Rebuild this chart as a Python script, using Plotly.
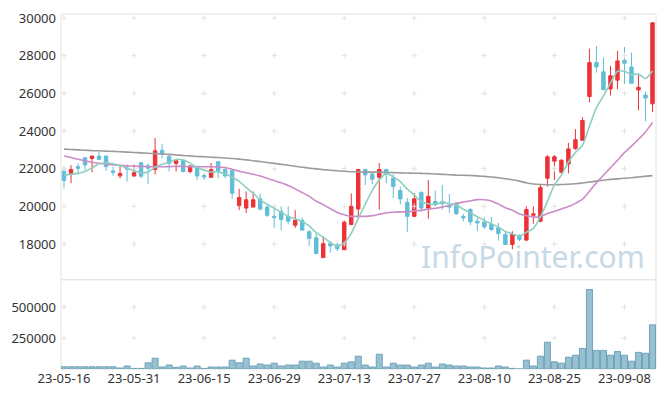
import plotly.graph_objects as go

dates = ["23-05-16","23-05-17","23-05-18","23-05-19","23-05-22","23-05-23","23-05-24","23-05-25","23-05-26","23-05-30",
         "23-05-31","23-06-01","23-06-02","23-06-05","23-06-07","23-06-08","23-06-09","23-06-12","23-06-13","23-06-14",
         "23-06-15","23-06-16","23-06-19","23-06-20","23-06-21","23-06-22","23-06-23","23-06-26","23-06-27","23-06-28",
         "23-06-29","23-06-30","23-07-03","23-07-04","23-07-05","23-07-06","23-07-07","23-07-10","23-07-11","23-07-12",
         "23-07-13","23-07-14","23-07-17","23-07-18","23-07-19","23-07-20","23-07-21","23-07-24","23-07-25","23-07-26",
         "23-07-27","23-07-28","23-07-31","23-08-01","23-08-02","23-08-03","23-08-04","23-08-07","23-08-08","23-08-09",
         "23-08-10","23-08-11","23-08-14","23-08-16","23-08-17","23-08-18","23-08-21","23-08-22","23-08-23","23-08-24",
         "23-08-25","23-08-28","23-08-29","23-08-30","23-08-31","23-09-01","23-09-04","23-09-05","23-09-06","23-09-07",
         "23-09-08","23-09-11","23-09-12","23-09-13","23-09-14"]

opens = [21880, 21740, 22110, 22580, 22540, 22670, 22670, 21880, 21620, 22040,
         21610, 22320, 22150, 21960, 22980, 22650, 22280, 22450, 21850, 22100,
         21640, 21540, 22370, 21960, 21900, 20040, 19910, 19960, 20400, 19960,
         19470, 19740, 19470, 19000, 19260, 18650, 18330, 17280, 18020, 17950,
         17700, 19040, 19860, 21960, 21720, 21540, 21960, 21490, 20840, 20210,
         19470, 20740, 19910, 20260, 20260, 20050, 20170, 19470, 19830, 19210,
         19160, 19040, 18860, 18510, 17980, 18460, 18210, 19530, 19210, 21490,
         22400, 21810, 22250, 23070, 23510, 25830, 27630, 27140, 26230, 26700,
         27750, 27400, 26180, 25910, 25440]
highs = [22100, 22190, 22280, 22630, 22680, 22900, 22700, 22100, 22190, 22220,
         22220, 22330, 22280, 23630, 23330, 22800, 22440, 22500, 22200, 22150,
         21750, 22300, 22380, 22100, 21950, 20930, 20790, 20790, 20670, 20090,
         19960, 20000, 20000, 19790, 19400, 18740, 18550, 18420, 18160, 18080,
         19250, 20680, 21990, 21990, 21760, 22300, 21990, 21700, 21050, 20440,
         20700, 20790, 21400, 20840, 21140, 20650, 20200, 19600, 19900, 19390,
         19420, 19450, 19120, 18650, 18680, 18520, 20000, 20000, 21180, 22720,
         22720, 22500, 23370, 24100, 24740, 28370, 28510, 27900, 27460, 28250,
         28460, 28160, 27020, 26090, 29790]
lows = [20950, 21230, 21670, 21930, 21810, 22450, 21880, 21630, 21490, 21320,
        21580, 21490, 21180, 21700, 22540, 21850, 21850, 21800, 21750, 21400,
        21400, 21540, 21500, 21500, 20400, 19800, 19650, 19960, 19780, 19440,
        18860, 18740, 19040, 18860, 18740, 17900, 17450, 17280, 17550, 17630,
        17680, 19000, 19390, 21140, 21180, 19830, 21230, 20440, 20090, 18630,
        19470, 19700, 19350, 20000, 19830, 19650, 19560, 19210, 19000, 18680,
        18820, 18700, 18190, 17950, 17720, 18160, 18160, 19080, 19160, 21050,
        21400, 21750, 21750, 23000, 23500, 25530, 27100, 26190, 25880, 26230,
        26490, 26530, 25090, 24510, 25000]
closes = [21370, 21960, 22020, 22200, 22670, 22490, 22110, 21810, 21750, 21980,
          21790, 21600, 22020, 22950, 22790, 22280, 22420, 21850, 22140, 21610,
          21560, 21950, 21900, 21620, 20700, 20470, 20350, 20350, 19860, 19530,
          19400, 19300, 19210, 19260, 18740, 18300, 17500, 18020, 17900, 17750,
          19160, 20000, 21960, 21670, 21440, 21960, 21720, 21050, 20390, 19470,
          20400, 19910, 20530, 20140, 20140, 19960, 19610, 19390, 19180, 19120,
          18910, 18770, 18560, 17980, 18510, 18250, 19830, 19600, 21000, 22630,
          22630, 22450, 23050, 23540, 24560, 27630, 27400, 26190, 26930, 27720,
          27600, 26530, 26320, 25750, 29740]
volumes = [18000, 18000, 18000, 18000, 18000, 18000, 18000, 18000, 8000, 24000,
           5000, 5000, 50000, 87000, 16000, 32000, 13000, 24000, 8000, 24000,
           5000, 16000, 16000, 16000, 71000, 50000, 87000, 24000, 40000, 32000,
           47000, 24000, 32000, 32000, 63000, 63000, 47000, 16000, 32000, 16000,
           47000, 58000, 103000, 32000, 16000, 119000, 16000, 47000, 32000, 32000,
           16000, 32000, 47000, 16000, 40000, 32000, 24000, 24000, 16000, 16000,
           8000, 8000, 24000, 16000, 5000, 0, 71000, 24000, 103000, 216000,
           58000, 47000, 95000, 111000, 166000, 641000, 150000, 150000, 111000, 142000,
           111000, 63000, 134000, 127000, 356000]
prior_closes = [21800, 21700, 21750, 21720]
ma20 = [22670, 22590, 22500, 22420, 22340, 22290, 22240, 22200, 22170, 22150,
        22130, 22120, 22110, 22100, 22100, 22110, 22120, 22120, 22110, 22100,
        22100, 22100, 22090, 22060, 21970, 21870, 21780, 21700, 21610, 21490,
        21370, 21250, 21110, 20930, 20730, 20530, 20280, 20090, 19880, 19680,
        19560, 19470, 19470, 19470, 19510, 19580, 19650, 19690, 19710, 19710,
        19760, 19790, 19860, 19900, 19970, 20050, 20160, 20230, 20290, 20360,
        20350, 20290, 20120, 19930, 19790, 19600, 19510, 19430, 19460, 19620,
        19730, 19860, 19990, 20160, 20380, 20800, 21250, 21650, 22050, 22450,
        22850, 23200, 23560, 23950, 24460]
ma60 = [23040, 23020, 23000, 22980, 22960, 22950, 22930, 22920, 22900, 22880,
        22860, 22840, 22820, 22800, 22780, 22760, 22730, 22700, 22680, 22650,
        22630, 22610, 22590, 22570, 22540, 22510, 22470, 22420, 22380, 22330,
        22280, 22230, 22180, 22130, 22080, 22030, 21990, 21950, 21920, 21890,
        21860, 21840, 21830, 21820, 21820, 21810, 21800, 21790, 21780, 21770,
        21760, 21750, 21740, 21720, 21700, 21680, 21660, 21650, 21640, 21620,
        21590, 21560, 21520, 21470, 21410, 21340, 21250, 21190, 21160, 21150,
        21150, 21160, 21170, 21200, 21240, 21290, 21340, 21390, 21430, 21460,
        21490, 21520, 21560, 21600, 21630]
price_ticks = [18000, 20000, 22000, 24000, 26000, 28000, 30000]
volume_ticks = [250000, 500000]

idx = list(range(len(dates)))
all_c = prior_closes + closes
ma5 = [sum(all_c[i:i + 5]) / 5 for i in range(len(closes))]

RED = "#ec3237"
BLUE = "#62bdd8"
split = 0.2514

fig = go.Figure()

tick_idx = idx[::10]
cross = dict(symbol="cross-thin", size=4, line=dict(color="#e2e2e2", width=1))
cx, cy = [], []
for t in tick_idx:
    for p in price_ticks:
        cx.append(t); cy.append(p)
fig.add_trace(go.Scatter(x=cx, y=cy, mode="markers", xaxis="x", yaxis="y",
                         marker=cross, hoverinfo="skip", showlegend=False))
vx, vy = [], []
for t in tick_idx:
    for v in volume_ticks:
        vx.append(t); vy.append(v)
fig.add_trace(go.Scatter(x=vx, y=vy, mode="markers", xaxis="x", yaxis="y2",
                         marker=cross, hoverinfo="skip", showlegend=False))

for vals, col in [(ma60, "#9b9b9b"), (ma20, "#cc8ac6"), (ma5, "#8ecfc1")]:
    fig.add_trace(go.Scatter(x=idx, y=vals, mode="lines", xaxis="x", yaxis="y",
                             line=dict(color=col, width=1.6, shape="spline", smoothing=0.6),
                             hoverinfo="skip", showlegend=False))

fig.add_trace(go.Candlestick(x=idx, open=opens, high=highs, low=lows, close=closes,
                             xaxis="x", yaxis="y",
                             increasing=dict(line=dict(color=RED, width=1), fillcolor=RED),
                             decreasing=dict(line=dict(color=BLUE, width=1), fillcolor=BLUE),
                             whiskerwidth=0, showlegend=False))

fig.add_trace(go.Bar(x=idx, y=volumes, xaxis="x", yaxis="y2", width=0.86,
                     marker=dict(color="#97c0d1", line=dict(color="#6fa3b9", width=1)),
                     showlegend=False))

font = dict(family="Noto Sans", size=13, color="#333333")

fig.update_layout(
    width=665, height=397,
    margin=dict(l=61, r=9, t=11, b=28),
    paper_bgcolor="white", plot_bgcolor="white",
    showlegend=False,
    xaxis=dict(range=[-0.43, 84.5], anchor="y2", tickvals=tick_idx,
               ticktext=[dates[i] for i in tick_idx], tickfont=font,
               showgrid=False, zeroline=False, showline=False, ticks="",
               rangeslider=dict(visible=False)),
    yaxis=dict(domain=[split, 1], range=[16105, 30210], tickvals=price_ticks,
               tickformat="d", tickfont=font, showgrid=False, zeroline=False, ticks="",
               ticklabelstandoff=4),
    yaxis2=dict(domain=[0, split], range=[0, 720000], tickvals=volume_ticks,
                tickformat="d", tickfont=font, showgrid=False, zeroline=False, ticks="",
                ticklabelstandoff=4),
    shapes=[
        dict(type="rect", xref="paper", yref="paper", x0=0, x1=1, y0=split, y1=1,
             line=dict(color="#e3e3e3", width=1), layer="below"),
        dict(type="rect", xref="paper", yref="paper", x0=0, x1=1, y0=0, y1=split,
             line=dict(color="#e3e3e3", width=1), layer="below"),
    ],
    annotations=[dict(text="InfoPointer.com", xref="paper", yref="paper",
                      x=0.985, y=0.318, xanchor="right", yanchor="middle",
                      showarrow=False,
                      font=dict(family="Noto Sans", size=30, color="#c6d9e5"))],
)

fig.write_html("out.html")
